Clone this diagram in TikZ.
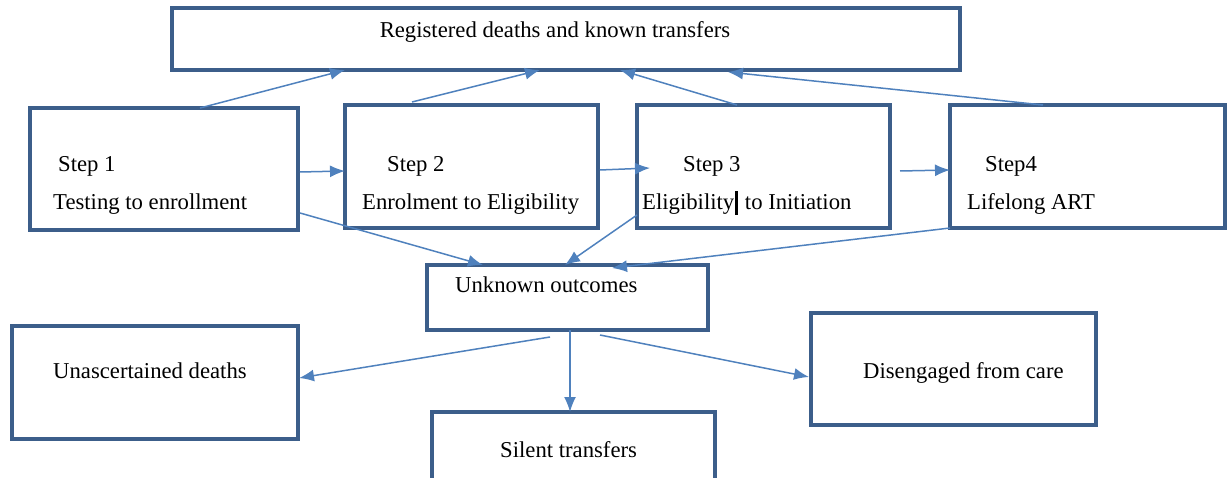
\documentclass[tikz,border=0pt]{standalone}
\usepackage{fontspec}
\setmainfont{Liberation Serif}
\usetikzlibrary{arrows.meta}
\definecolor{boxc}{RGB}{60,94,138}
\definecolor{arrc}{RGB}{79,129,189}
\begin{document}
\begin{tikzpicture}[x=1pt,y=-1pt,
  box/.style={draw=boxc,line width=3.6pt,rectangle,outer sep=0pt,inner sep=0pt,anchor=north west},
  lbl/.style={anchor=base west,inner sep=0pt,font=\fontsize{22.7}{27}\selectfont},
  arr/.style={draw=arrc,line width=1.5pt,-{Latex[length=15pt,width=12pt]}}]
\useasboundingbox (0,0) rectangle (1231,478);
% boxes
\node[box,minimum width=788pt,minimum height=62pt] (top) at (172,8) {};
\node[box,minimum width=268pt,minimum height=122pt] (s1) at (30,108) {};
\node[box,minimum width=253pt,minimum height=123pt] (s2) at (345,105) {};
\node[box,minimum width=253pt,minimum height=123pt] (s3) at (637,105) {};
\node[box,minimum width=275pt,minimum height=123pt] (s4) at (950,105) {};
\node[box,minimum width=281pt,minimum height=65pt] (unk) at (427,265) {};
\node[box,minimum width=286pt,minimum height=113pt] (una) at (12,326) {};
\node[box,minimum width=283pt,minimum height=75pt] (sil) at (432,412) {};
\node[box,minimum width=285pt,minimum height=112pt] (dis) at (811,313) {};
% texts
\node[lbl,anchor=base] (ttop) at (555,38) {Registered deaths and known transfers};
\node[lbl] (t1a) at (58,172) {Step 1};
\node[lbl] (t1b) at (53,210) {Testing to enrollment};
\node[lbl] (t2a) at (387,172) {Step 2};
\node[lbl] (t2b) at (362,210) {Enrolment to Eligibility};
\node[lbl] (t3a) at (683,172) {Step 3};
\node[lbl] (t3b) at (642,210) {Eligibility\kern1pt\rule[-5pt]{3pt}{24pt}\kern1pt{} to Initiation};
\node[lbl] (t4a) at (985,172) {Step4};
\node[lbl] (t4b) at (967,210) {Lifelong ART};
\node[lbl] (tunk) at (455,293) {Unknown outcomes};
\node[lbl] (tuna) at (53,378) {Unascertained deaths};
\node[lbl] (tsil) at (500,457) {Silent transfers};
\node[lbl] (tdis) at (863,378) {Disengaged from care};
% arrows to top
\draw[arr] ([xshift=170pt]s1.north west) -- ([xshift=173pt]top.south west);
\draw[arr] ([xshift=67pt,yshift=3pt]s2.north west) -- ([xshift=368pt]top.south west);
\draw[arr] ([xshift=100pt]s3.north west) -- ([xshift=448pt]top.south west);
\draw[arr] ([xshift=93pt]s4.north west) -- ([xshift=556pt,yshift=-2pt]top.south west);
% step arrows
\draw[arr] ([xshift=2pt,yshift=-64pt]s1.north east) -- ([yshift=-66pt]s2.north west);
\draw[arr] ([xshift=2pt,yshift=-65pt]s2.north east) -- ([xshift=13pt,yshift=-63pt]s3.north west);
\draw[arr] ([xshift=10pt,yshift=-66pt]s3.north east) -- ([yshift=-65pt]s4.north west);
% to unknown
\draw[arr] ([xshift=2pt,yshift=-105pt]s1.north east) -- ([xshift=56pt]unk.north west);
\draw[arr] ([yshift=-110pt]s3.north west) -- ([xshift=138pt]unk.north west);
\draw[arr] (s4.south west) -- ([xshift=185pt,yshift=-3pt]unk.north west);
% from unknown
\draw[arr] ([xshift=123pt,yshift=-7pt]unk.south west) -- ([xshift=1pt,yshift=-52pt]una.north east);
\draw[arr] ([xshift=143pt]unk.south west) -- ([xshift=138pt]sil.north west);
\draw[arr] ([xshift=173pt,yshift=-5pt]unk.south west) -- ([xshift=-2pt,yshift=-64pt]dis.north west);
\end{tikzpicture}
\end{document}
